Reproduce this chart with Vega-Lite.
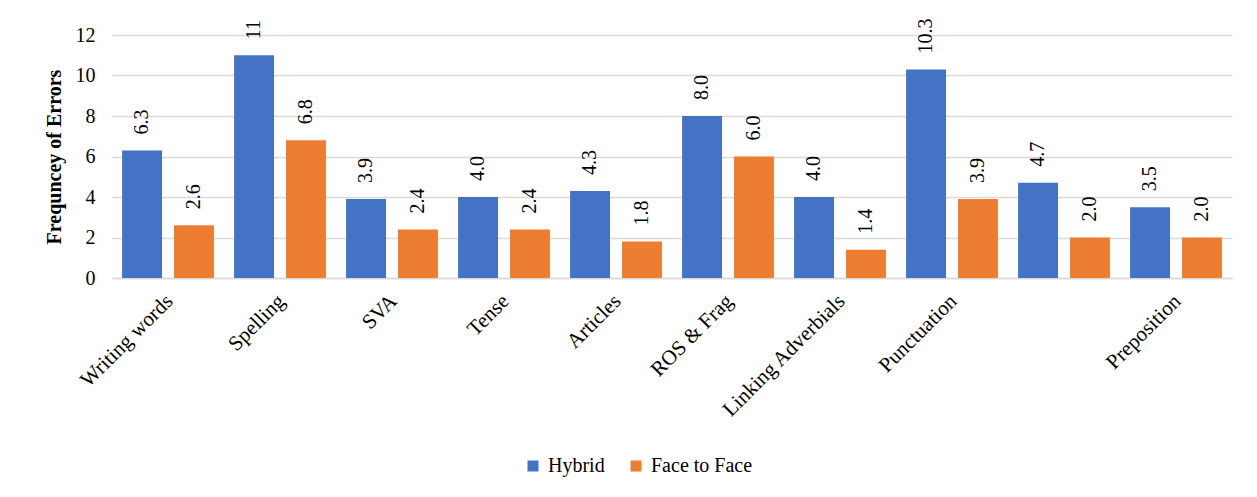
{
  "$schema": "https://vega.github.io/schema/vega-lite/v6.json",
  "width": 1120,
  "height": 243,
  "autosize": {"type": "none"},
  "padding": {"left": 112, "top": 35, "right": 25, "bottom": 219},
  "background": "white",
  "data": {
    "values": [
      {"category": "Writing words", "group": "Hybrid", "value": 6.3, "label": "6.3"},
      {"category": "Writing words", "group": "Face to Face", "value": 2.6, "label": "2.6"},
      {"category": "Spelling", "group": "Hybrid", "value": 11, "label": "11"},
      {"category": "Spelling", "group": "Face to Face", "value": 6.8, "label": "6.8"},
      {"category": "SVA", "group": "Hybrid", "value": 3.9, "label": "3.9"},
      {"category": "SVA", "group": "Face to Face", "value": 2.4, "label": "2.4"},
      {"category": "Tense", "group": "Hybrid", "value": 4.0, "label": "4.0"},
      {"category": "Tense", "group": "Face to Face", "value": 2.4, "label": "2.4"},
      {"category": "Articles", "group": "Hybrid", "value": 4.3, "label": "4.3"},
      {"category": "Articles", "group": "Face to Face", "value": 1.8, "label": "1.8"},
      {"category": "ROS & Frag", "group": "Hybrid", "value": 8.0, "label": "8.0"},
      {"category": "ROS & Frag", "group": "Face to Face", "value": 6.0, "label": "6.0"},
      {"category": "Linking Adverbials", "group": "Hybrid", "value": 4.0, "label": "4.0"},
      {"category": "Linking Adverbials", "group": "Face to Face", "value": 1.4, "label": "1.4"},
      {"category": "Punctuation", "group": "Hybrid", "value": 10.3, "label": "10.3"},
      {"category": "Punctuation", "group": "Face to Face", "value": 3.9, "label": "3.9"},
      {"category": " ", "group": "Hybrid", "value": 4.7, "label": "4.7"},
      {"category": " ", "group": "Face to Face", "value": 2.0, "label": "2.0"},
      {"category": "Preposition", "group": "Hybrid", "value": 3.5, "label": "3.5"},
      {"category": "Preposition", "group": "Face to Face", "value": 2.0, "label": "2.0"}
    ]
  },
  "encoding": {
    "x": {
      "field": "category",
      "type": "nominal",
      "sort": null,
      "title": null,
      "scale": {"paddingInner": 0.18, "paddingOuter": 0.09},
      "axis": {
        "labelAngle": -45,
        "labelFont": "Liberation Serif",
        "labelFontSize": 21,
        "labelColor": "#000000",
        "labelPadding": 12,
        "labelOffset": -6,
        "ticks": false,
        "tickSize": 0,
        "domainColor": "#D9D9D9",
        "domainWidth": 1.5,
        "grid": false,
        "labelOverlap": false
      }
    },
    "xOffset": {
      "field": "group",
      "type": "nominal",
      "sort": ["Hybrid", "Face to Face"],
      "scale": {"paddingInner": 0.23, "paddingOuter": 0}
    },
    "y": {
      "field": "value",
      "type": "quantitative",
      "title": "Frequncey of Errors",
      "scale": {"domain": [0, 12], "nice": false},
      "axis": {
        "values": [0, 2, 4, 6, 8, 10, 12],
        "labelFont": "Liberation Serif",
        "labelFontSize": 20,
        "labelColor": "#000000",
        "labelPadding": 17,
        "ticks": false,
        "tickSize": 0,
        "domain": false,
        "grid": true,
        "gridColor": "#D9D9D9",
        "gridWidth": 1.5,
        "titleFont": "Liberation Serif",
        "titleFontSize": 20,
        "titleFontWeight": "bold",
        "titleColor": "#000000",
        "titlePadding": 11
      }
    }
  },
  "layer": [
    {
      "mark": {"type": "bar"},
      "encoding": {
        "color": {
          "field": "group",
          "type": "nominal",
          "title": null,
          "scale": {"domain": ["Hybrid", "Face to Face"], "range": ["#4472C4", "#ED7D31"]},
          "legend": {
            "orient": "none",
            "legendX": 411,
            "legendY": 421,
            "direction": "horizontal",
            "symbolType": "square",
            "symbolSize": 121,
            "symbolStrokeWidth": 0,
            "symbolOpacity": 1,
            "labelFont": "Liberation Serif",
            "labelFontSize": 20,
            "labelColor": "#000000",
            "labelOffset": 5,
            "columnPadding": 21,
            "padding": 0
          }
        }
      }
    },
    {
      "mark": {
        "type": "text",
        "angle": 270,
        "align": "left",
        "baseline": "middle",
        "dx": 16,
        "font": "Liberation Serif",
        "fontSize": 20,
        "color": "#000000"
      },
      "encoding": {"text": {"field": "label"}}
    }
  ],
  "config": {
    "font": "Liberation Serif",
    "view": {"stroke": null}
  }
}
